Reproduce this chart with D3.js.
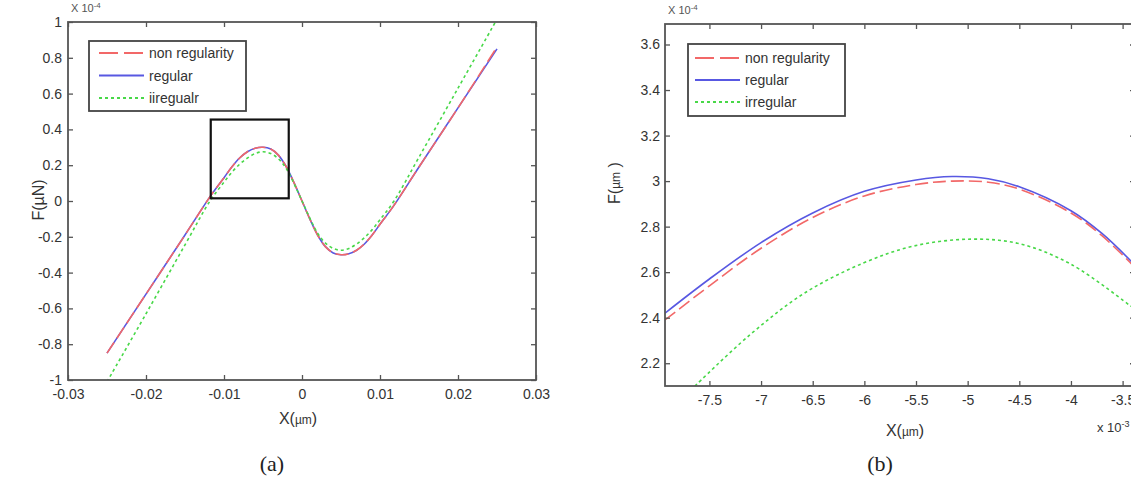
<!DOCTYPE html>
<html>
<head>
<meta charset="utf-8">
<script src="https://cdn.jsdelivr.net/npm/d3@7"></script>
<style>
  html, body { margin: 0; padding: 0; background: #fff; }
  svg { display: block; }
  text { font-family: "Liberation Sans", Arial, sans-serif; }
</style>
</head>
<body>
<svg id="chart" width="1131" height="477"></svg>
<script>
// ---- data (values in units of 1e-4 for F) ----
// (a) full range
var leftX = [-0.025, -0.02, -0.015, -0.0117, -0.01, -0.009, -0.008, -0.007, -0.006, -0.005, -0.004, -0.003, -0.002, -0.001, 0,
             0.001, 0.002, 0.003, 0.004, 0.005, 0.006, 0.007, 0.008, 0.009, 0.01, 0.0117, 0.015, 0.02, 0.025];
var leftNonRegularity = [-0.85, -0.52, -0.19, 0.03, 0.13, 0.19, 0.24, 0.275, 0.295, 0.30, 0.29, 0.255, 0.19, 0.10, 0,
             -0.10, -0.19, -0.255, -0.29, -0.30, -0.295, -0.275, -0.24, -0.19, -0.13, -0.03, 0.19, 0.52, 0.86];
var leftRegular = [-0.85, -0.52, -0.19, 0.03, 0.13, 0.19, 0.24, 0.275, 0.295, 0.30, 0.29, 0.255, 0.19, 0.10, 0,
             -0.10, -0.19, -0.255, -0.29, -0.30, -0.295, -0.275, -0.24, -0.19, -0.13, -0.03, 0.19, 0.52, 0.85];
var leftIrrX = [-0.025, -0.02, -0.015, -0.0118, -0.01, -0.009, -0.008, -0.007, -0.006, -0.005, -0.004, -0.003, -0.002, -0.001, 0,
             0.001, 0.002, 0.003, 0.004, 0.005, 0.006, 0.007, 0.008, 0.009, 0.01, 0.0118, 0.015, 0.02, 0.0248];
var leftIrregular = [-1.01, -0.63, -0.245, 0, 0.105, 0.16, 0.205, 0.24, 0.265, 0.275, 0.265, 0.235, 0.18, 0.095, 0,
             -0.095, -0.18, -0.235, -0.265, -0.275, -0.265, -0.24, -0.205, -0.16, -0.105, 0, 0.245, 0.63, 1.0];
var leftXTicks = [-0.03, -0.02, -0.01, 0, 0.01, 0.02, 0.03];
var leftYTicks = [-1, -0.8, -0.6, -0.4, -0.2, 0, 0.2, 0.4, 0.6, 0.8, 1];
var zoomBoxX = [-0.0117, -0.0017];
var zoomBoxY = [0.015, 0.455];
var leftLegend = ["non regularity", "regular", "iiregualr"];

// (b) zoomed peak (x in units of 1e-3)
var rightX = [-7.93, -7.5, -7.0, -6.5, -6.0, -5.5, -5.15, -4.8, -4.5, -4.0, -3.7, -3.4];
var rightNonRegularity = [2.39, 2.54, 2.705, 2.84, 2.935, 2.985, 3.00, 2.995, 2.965, 2.86, 2.76, 2.63];
var rightRegular = [2.42, 2.57, 2.73, 2.86, 2.955, 3.005, 3.02, 3.01, 2.975, 2.87, 2.77, 2.64];
var rightIrrX = [-7.64, -7.12, -6.59, -6.01, -5.52, -4.97, -4.5, -4.0, -3.42];
var rightIrregular = [2.10, 2.32, 2.505, 2.64, 2.715, 2.745, 2.725, 2.635, 2.45];
var rightXTicks = [-7.5, -7, -6.5, -6, -5.5, -5, -4.5, -4, -3.5];
var rightYTicks = [2.2, 2.4, 2.6, 2.8, 3, 3.2, 3.4, 3.6];
var rightLegend = ["non regularity", "regular", "irregular"];

var colors = { red: "#f26868", blue: "#5858e2", green: "#48d848" };
var dashes = { red: "13,5", blue: null, green: "3,3" };
var legendOrder = ["red", "blue", "green"];

var svg = d3.select("#chart");
svg.append("rect").attr("width", 1131).attr("height", 477).attr("fill", "#fff");

function drawPanel(cfg) {
    var x = d3.scaleLinear().domain(cfg.xDomain).range(cfg.xRange);
    var y = d3.scaleLinear().domain(cfg.yDomain).range(cfg.yRange);
    var g = svg.append("g").attr("class", "panel-" + cfg.id);

    g.append("clipPath").attr("id", "clip-" + cfg.id)
        .append("rect")
        .attr("x", cfg.xRange[0]).attr("y", cfg.yRange[1])
        .attr("width", cfg.xRange[1] - cfg.xRange[0])
        .attr("height", cfg.yRange[0] - cfg.yRange[1]);

    // series
    var line = d3.line()
        .x(function (d) { return x(d[0]); })
        .y(function (d) { return y(d[1]); })
        .curve(d3.curveCatmullRom.alpha(0.5));
    var plot = g.append("g").attr("clip-path", "url(#clip-" + cfg.id + ")");
    cfg.series.forEach(function (s) {
        plot.append("path")
            .datum(d3.zip(s.x, s.y))
            .attr("d", line)
            .attr("fill", "none")
            .attr("stroke", colors[s.color])
            .attr("stroke-width", 1.6)
            .attr("stroke-dasharray", dashes[s.color]);
    });

    // axes: ticks inward on all four sides, matlab style
    var fmt = function (d) { return String(d); };
    var bottom = g.append("g").attr("transform", "translate(0," + cfg.yRange[0] + ")")
        .call(d3.axisBottom(x).tickValues(cfg.xTicks).tickFormat(fmt).tickSizeInner(-5).tickSizeOuter(0).tickPadding(9));
    var left = g.append("g").attr("transform", "translate(" + cfg.xRange[0] + ",0)")
        .call(d3.axisLeft(y).tickValues(cfg.yTicks).tickFormat(fmt).tickSizeInner(-5).tickSizeOuter(0).tickPadding(cfg.yPad));
    var top = g.append("g").attr("transform", "translate(0," + cfg.yRange[1] + ")")
        .call(d3.axisTop(x).tickValues(cfg.xTicks).tickFormat("").tickSizeInner(-5).tickSizeOuter(0));
    var right = g.append("g").attr("transform", "translate(" + cfg.xRange[1] + ",0)")
        .call(d3.axisRight(y).tickValues(cfg.yTicks).tickFormat("").tickSizeInner(-5).tickSizeOuter(0));
    [bottom, left, top, right].forEach(function (a) {
        a.select(".domain").remove();
        a.selectAll(".tick line").attr("stroke", "#555").attr("stroke-width", 1.3);
        a.selectAll(".tick text").attr("fill", "#333").style("font-size", "14px")
            .style("font-family", "'Liberation Sans', Arial, sans-serif");
    });
    g.append("rect")
        .attr("x", cfg.xRange[0]).attr("y", cfg.yRange[1])
        .attr("width", cfg.xRange[1] - cfg.xRange[0])
        .attr("height", cfg.yRange[0] - cfg.yRange[1])
        .attr("fill", "none").attr("stroke", "#555").attr("stroke-width", 1.8);

    // exponent note above the y axis
    var ex = g.append("text").attr("x", cfg.xRange[0] + 3).attr("y", cfg.yRange[1] - 10)
        .attr("fill", "#555").style("font-size", "11px");
    ex.append("tspan").text("X 10");
    ex.append("tspan").attr("dy", -4).style("font-size", "8px").text("-4");

    // legend
    var lg = g.append("g").attr("transform", "translate(" + cfg.legend.x + "," + cfg.legend.y + ")");
    lg.append("rect").attr("width", 157).attr("height", cfg.legend.h)
        .attr("fill", "#fff").attr("stroke", "#444").attr("stroke-width", 1.8);
    legendOrder.forEach(function (c, i) {
        var yy = cfg.legend.row0 + i * cfg.legend.step;
        lg.append("line")
            .attr("x1", cfg.legend.lx).attr("x2", cfg.legend.lx + 45)
            .attr("y1", yy).attr("y2", yy)
            .attr("stroke", colors[c]).attr("stroke-width", 2)
            .attr("stroke-dasharray", c === "red" ? "19,6" : dashes[c]);
        lg.append("text").attr("x", cfg.legend.lx + 50).attr("y", yy + 5)
            .attr("fill", "#333").style("font-size", "14px").text(cfg.labels[i]);
    });

    return { x: x, y: y, g: g };
}

var a = drawPanel({
    id: "a",
    xDomain: [-0.03, 0.03], xRange: [68, 536],
    yDomain: [-1, 1], yRange: [380, 22],
    xTicks: leftXTicks, yTicks: leftYTicks, yPad: 6,
    labels: leftLegend,
    legend: { x: 89, y: 41, h: 70, lx: 10, row0: 12, step: 22.5 },
    series: [
        { x: leftX, y: leftRegular, color: "blue" },
        { x: leftX, y: leftNonRegularity, color: "red" },
        { x: leftIrrX, y: leftIrregular, color: "green" }
    ]
});
// the zoom window shown in (b)
a.g.append("rect")
    .attr("x", a.x(zoomBoxX[0])).attr("y", a.y(zoomBoxY[1]))
    .attr("width", a.x(zoomBoxX[1]) - a.x(zoomBoxX[0]))
    .attr("height", a.y(zoomBoxY[0]) - a.y(zoomBoxY[1]))
    .attr("fill", "none").attr("stroke", "#111").attr("stroke-width", 2.2);

var b = drawPanel({
    id: "b",
    xDomain: [-7.93, -3.38], xRange: [665, 1135],
    yDomain: [2.1, 3.69], yRange: [386, 24],
    xTicks: rightXTicks, yTicks: rightYTicks, yPad: 5,
    labels: rightLegend,
    legend: { x: 688, y: 44, h: 72, lx: 7, row0: 14, step: 22 },
    series: [
        { x: rightX, y: rightRegular, color: "blue" },
        { x: rightX, y: rightNonRegularity, color: "red" },
        { x: rightIrrX, y: rightIrregular, color: "green" }
    ]
});

// axis titles
function xTitle(cx, cy) {
    var t = svg.append("text").attr("x", cx).attr("y", cy).attr("text-anchor", "middle")
        .attr("fill", "#333").style("font-size", "16px");
    t.append("tspan").text("X(");
    t.append("tspan").style("font-size", "12px").text("µm");
    t.append("tspan").text(")");
}
xTitle(298, 424);
xTitle(905, 436);

svg.append("text").attr("transform", "translate(44,200) rotate(-90)")
    .attr("text-anchor", "middle").attr("fill", "#333").style("font-size", "16px")
    .text("F(µN)");
var fy = svg.append("text").attr("transform", "translate(620,183) rotate(-90)")
    .attr("text-anchor", "middle").attr("fill", "#333").style("font-size", "16px");
fy.append("tspan").text("F(");
fy.append("tspan").style("font-size", "12px").text("µm");
fy.append("tspan").text(" )");

// exponent of the zoomed x axis
var xe = svg.append("text").attr("x", 1097).attr("y", 432).attr("fill", "#333").style("font-size", "13px");
xe.append("tspan").text("x 10");
xe.append("tspan").attr("dy", -5).style("font-size", "9px").text("-3");

// panel captions
svg.append("text").attr("x", 272).attr("y", 471).attr("text-anchor", "middle")
    .style("font-family", "'Liberation Serif', 'DejaVu Serif', serif").style("font-size", "22px")
    .attr("fill", "#222").text("(a)");
svg.append("text").attr("x", 880).attr("y", 471).attr("text-anchor", "middle")
    .style("font-family", "'Liberation Serif', 'DejaVu Serif', serif").style("font-size", "22px")
    .attr("fill", "#222").text("(b)");
</script>
</body>
</html>
